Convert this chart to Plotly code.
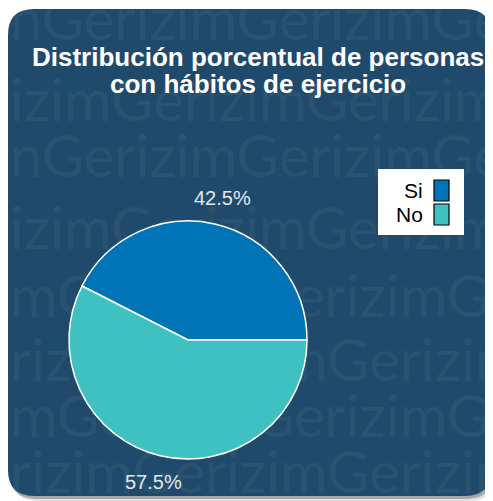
import math
import plotly.graph_objects as go

# data
labels = ["Si", "No"]
values = [42.5, 57.5]
colors = ["#0174b8", "#40c1c1"]
title_lines = ["Distribución porcentual de personas", "con hábitos de ejercicio"]

# the page body keeps an 8px margin, so the figure is 8px smaller than the
# window and the hidden axes run in page pixels (8 .. window size)
WIN_W, WIN_H = 493, 501
OFF = 8
W, H = WIN_W - OFF, WIN_H - OFF
panel_color = "#1f4a6b"

# pie box in page pixels
PIE_L, PIE_R, PIE_T, PIE_B = 69, 307, 221, 459


def rounded_rect(x0, y0, x1, y1, r):
    return (f"M {x0 + r} {y0} L {x1 - r} {y0} Q {x1} {y0} {x1} {y0 + r} "
            f"L {x1} {y1 - r} Q {x1} {y1} {x1 - r} {y1} "
            f"L {x0 + r} {y1} Q {x0} {y1} {x0} {y1 - r} "
            f"L {x0} {y0 + r} Q {x0} {y0} {x0 + r} {y0} Z")


def px_x(p):
    return (p - OFF) / W


def px_y(p):
    return 1 - (p - OFF) / H


fig = go.Figure()

# watermark text behind the pie
wm_rows = ["nGerizimGerizimGerizim", "izimGerizimGerizimGer", "nGerizimGerizimGerizim",
           "izimGerizimGerizimGer", "mGerizimGerizimGerizim", "rizimGerizimGerizimG",
           "mGerizimGerizimGerizim", "rizimGerizimGerizimG"]
wm_y = [25, 106, 162, 234, 302, 366, 422, 478]
fig.add_trace(go.Scatter(
    x=[10] * len(wm_rows), y=wm_y, text=wm_rows, mode="text",
    textposition="middle right",
    textfont=dict(family="DejaVu Sans ExtraLight, Lato, Noto Sans", size=58,
                  color="rgba(255,255,255,0.05)"),
    hoverinfo="skip", showlegend=False,
))

# first slice starts at 3 o'clock and runs counterclockwise (like R's pie)
total = sum(values)
first_angle = 360 * values[0] / total
fig.add_trace(go.Pie(
    labels=labels, values=values, sort=False,
    direction="counterclockwise", rotation=90 - first_angle,
    marker=dict(colors=colors, line=dict(color="white", width=1.5)),
    textinfo="none",
    domain=dict(x=[px_x(PIE_L), px_x(PIE_R)], y=[px_y(PIE_B), px_y(PIE_T)]),
    showlegend=False, hoverinfo="label+percent",
))

shapes = [
    dict(type="path", path=rounded_rect(12, 13, 495, 501, 26), fillcolor="rgba(0,0,0,0.12)",
         line=dict(width=0), layer="below", xref="x", yref="y"),
    dict(type="path", path=rounded_rect(10, 11, 493, 499, 26), fillcolor="rgba(0,0,0,0.25)",
         line=dict(width=0), layer="below", xref="x", yref="y"),
    dict(type="path", path=rounded_rect(8, 9, 491, 496, 26), fillcolor=panel_color,
         line=dict(width=0), layer="below", xref="x", yref="y"),
    # legend box
    dict(type="rect", x0=378, x1=464, y0=169, y1=235, fillcolor="white",
         line=dict(width=0), layer="above", xref="x", yref="y"),
]

annotations = []
for t, yy in zip(title_lines, [57, 84]):
    annotations.append(dict(text=f"<b>{t}</b>", x=258, y=yy, xref="x", yref="y",
                            showarrow=False, xanchor="center", yanchor="middle",
                            font=dict(family="Liberation Sans, Arial", size=26, color="white")))

# percentage labels outside the pie, at the middle angle of each slice
cx, cy = (PIE_L + PIE_R) / 2, (PIE_T + PIE_B) / 2
rad = (PIE_R - PIE_L) / 2
start = 0.0
for v in values:
    mid = math.radians(start + 180 * v / total)
    start += 360 * v / total
    annotations.append(dict(text=f"{v:.1f}%", x=cx + 1.225 * rad * math.cos(mid),
                            y=cy - 1.225 * rad * math.sin(mid), xref="x", yref="y",
                            showarrow=False, xanchor="center", yanchor="middle",
                            font=dict(family="Liberation Sans, Arial", size=20, color="#e2e8ee")))

for i, (lab, col) in enumerate(zip(labels, colors)):
    yc = 190 + 24 * i
    shapes.append(dict(type="rect", x0=434, x1=449, y0=yc - 10, y1=yc + 11,
                       fillcolor=col, line=dict(color="black", width=1.2),
                       layer="above", xref="x", yref="y"))
    annotations.append(dict(text=lab, x=425, y=yc, xref="x", yref="y", showarrow=False,
                            xanchor="right", yanchor="middle",
                            font=dict(family="Liberation Sans, Arial", size=21, color="black")))

fig.update_layout(
    width=W, height=H,
    margin=dict(l=0, r=0, t=0, b=0),
    paper_bgcolor="white", plot_bgcolor="rgba(0,0,0,0)",
    xaxis=dict(range=[OFF, WIN_W], visible=False, fixedrange=True),
    yaxis=dict(range=[WIN_H, OFF], visible=False, fixedrange=True),
    shapes=shapes, annotations=annotations,
    showlegend=False,
)

fig.write_html("out.html")
